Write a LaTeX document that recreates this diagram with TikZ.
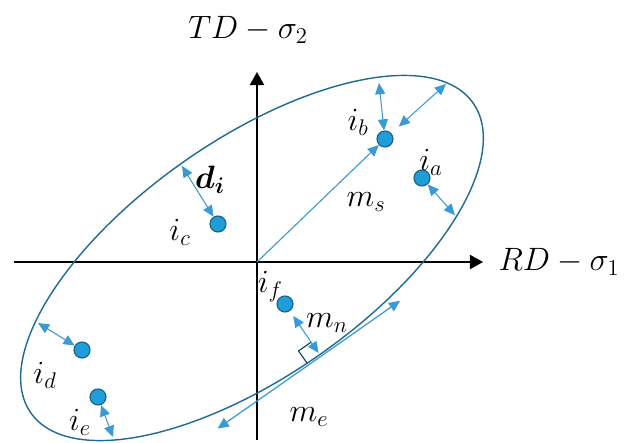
\RequirePackage{fix-cm}
\documentclass[tikz,border=0pt]{standalone}
\usepackage{amsmath,amssymb}
\usepackage{bm}
\usepackage{xcolor}
\usepackage{tikz}
\usetikzlibrary{arrows.meta}

\definecolor{ellblue}{HTML}{1F6A93}
\definecolor{ptfill}{HTML}{1E9DD8}
\definecolor{ptedge}{HTML}{1A5F86}
\definecolor{arrblue}{HTML}{3A9AD5}

\begin{document}
\begin{tikzpicture}[
    every node/.style={font=\fontsize{23}{27}\selectfont},
    pt/.style={circle, draw=ptedge, fill=ptfill, line width=0.8pt, minimum size=0.4cm, inner sep=0pt},
    axis/.style={line width=1pt, -{Triangle[length=0.33cm, width=0.36cm]}},
    dist/.style={arrblue, line width=0.75pt, {Triangle[length=0.28cm, width=0.25cm]}-{Triangle[length=0.28cm, width=0.25cm]}},
    lbl/.style={inner sep=0pt},
  ]
  \useasboundingbox (-6.425,-4.5) rectangle (9.6,6.55);

  % axes
  \coordinate (O) at (0,0);
  \coordinate (xs) at (-6.075,0);
  \coordinate (xe) at (5.65,0);
  \coordinate (ys) at (0,-4.45);
  \coordinate (ye) at (0,4.75);
  \draw[axis] (xs) -- (xe);
  \draw[axis] (ys) -- (ye);
  \node (RD) at (7.55,0) {$RD-\sigma_1$};
  \node (TD) at (-0.225,5.8) {$TD-\sigma_2$};

  % ellipse and its tangent
  \begin{scope}[shift={(-0.125,0.1)}, rotate=35]
    \draw[ellblue, line width=1pt] (0,0) ellipse (6.75 and 2.95);
    \coordinate (foot) at (0,-2.95);
    \coordinate (meA) at (-3.15,-3.0);
    \coordinate (meB) at (2.42,-3.0);
    \draw[ellblue!60!black, line width=0.8pt] (0,-2.57) -- (-0.38,-2.57) -- (-0.38,-2.95);
  \end{scope}

  \coordinate (bTop) at (3.05,4.475);
  \coordinate (bEdge) at (4.725,4.45);
  \coordinate (aEdge) at (4.95,1.17);
  \coordinate (cEdge) at (-1.875,2.4);
  \coordinate (dEdge) at (-5.475,-1.525);
  \coordinate (eEdge) at (-3.6,-4.375);

  \node[pt] (ia) at (4.125,2.1) {};
  \node[pt] (ib) at (3.2,3.075) {};
  \node[pt] (ic) at (-0.975,0.95) {};
  \node[pt] (if) at (0.7,-1.05) {};
  \node[pt] (id) at (-4.375,-2.2) {};
  \node[pt] (ie) at (-3.975,-3.375) {};

  \node[lbl] at (4.35,2.48)    {$i_a$};
  \node[lbl] at (2.525,3.5)    {$i_b$};
  \node[lbl] at (-1.925,0.75)  {$i_c$};
  \node[lbl] at (0.33,-0.625)  {$i_f$};
  \node[lbl] at (-5.3,-2.825)  {$i_d$};
  \node[lbl] at (-4.425,-4.0)  {$i_e$};
  \node[lbl] at (-1.175,2.05)  {$\bm{d_i}$};
  \node[lbl] at (2.725,1.5)    {$m_s$};
  \node[lbl] at (1.75,-1.525)  {$m_n$};
  \node[lbl] at (1.3,-3.875)   {$m_e$};

  \draw[arrblue, line width=0.8pt, -{Triangle[length=0.28cm, width=0.25cm]}] (O) -- (ib);
  \draw[dist] (ib) -- (bTop);
  \draw[dist, shorten <=0.25cm] (ib) -- (bEdge);
  \draw[dist] (ia) -- (aEdge);
  \draw[dist] (ic) -- (cEdge);
  \draw[dist] (id) -- (dEdge);
  \draw[dist] (ie) -- (eEdge);
  \draw[dist, shorten <=0.15cm, shorten >=0.05cm] (if) -- (foot);
  \draw[dist, line width=0.9pt] (meA) -- (meB);

\end{tikzpicture}
\end{document}
